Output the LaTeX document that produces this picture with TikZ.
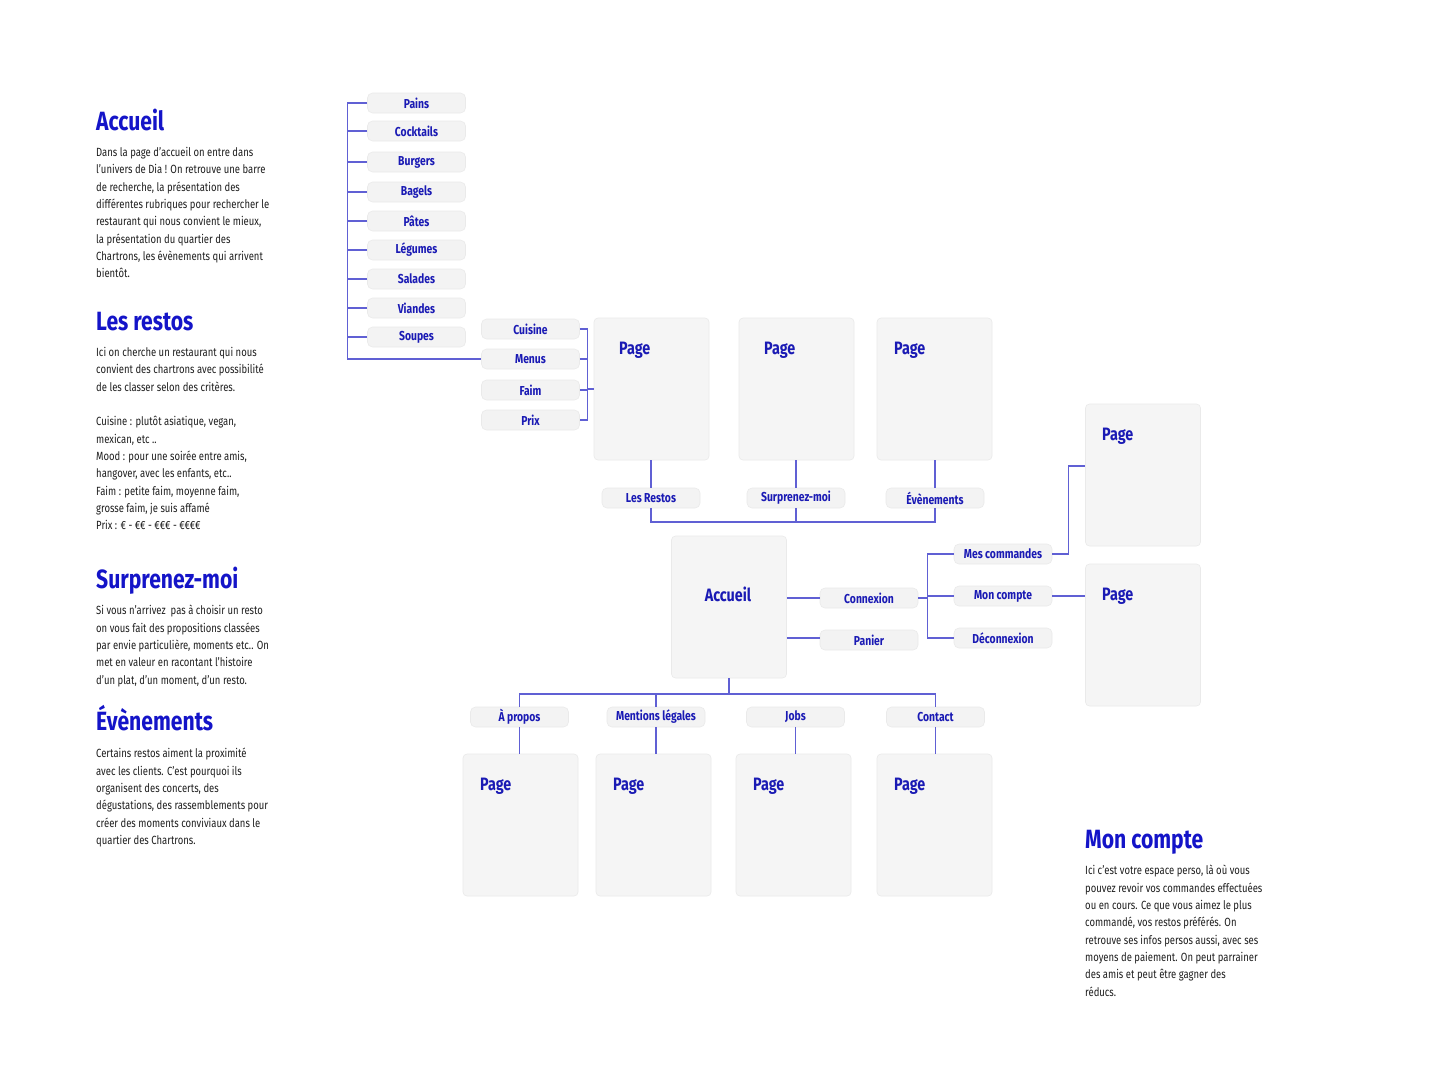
\documentclass[tikz,border=0pt]{standalone}
\usepackage{fontspec}
\setmainfont{Fira Sans}[FakeStretch=0.8]
\usetikzlibrary{calc}
\definecolor{hblue}{HTML}{1414C8}
\definecolor{tblue}{HTML}{1A1AB4}
\definecolor{linec}{HTML}{6060D4}
\definecolor{tagfill}{HTML}{F3F3F3}
\definecolor{pagefill}{HTML}{F5F5F5}
\definecolor{edgec}{HTML}{EAEAEA}
\definecolor{bodyc}{HTML}{1E1E1E}
\newcommand\bodyf{\fontsize{11.9}{17.4}\selectfont}
\tikzset{
  x=1bp, y=-1bp,
  tag/.style={rounded corners=5bp, fill=tagfill, draw=edgec, line width=0.6bp,
    minimum width=98bp, minimum height=20bp, inner sep=0pt,
    font=\bfseries\fontsize{13}{13}\selectfont, text=tblue},
  pagebox/.style={rounded corners=4bp, fill=pagefill, draw=edgec, line width=0.6bp,
    minimum width=115bp, minimum height=142bp, inner sep=0pt},
  pagelbl/.style={anchor=west, inner sep=0pt, text=tblue, font=\bfseries\fontsize{18}{18}\selectfont},
  conn/.style={draw=linec, line width=1.1bp},
  heading/.style={anchor=base west, inner sep=0pt, text=hblue, font=\bfseries\fontsize{26.5}{26.5}\selectfont},
  body/.style={anchor=north west, inner sep=0pt, align=left, text=bodyc, font=\bodyf},
}
\begin{document}
\begin{tikzpicture}
\useasboundingbox[fill=white] (0,0) rectangle (1451,1089);

% ---------- left texts ----------
\node[heading] (hAcc) at (96,130) {Accueil};
\node[body] (tAcc) at (96,147) {Dans la page d’accueil on entre dans\\l'univers de Dia ! On retrouve une barre\\de recherche, la présentation des\\différentes rubriques pour rechercher le\\restaurant qui nous convient le mieux,\\la présentation du quartier des\\Chartrons, les évènements qui arrivent\\bientôt.};

\node[heading] (hRes) at (96,330) {Les restos};
\node[body] (tRes) at (96,347) {Ici on cherche un restaurant qui nous\\convient des chartrons avec possibilité\\de les classer selon des critères.\\[17.4bp]Cuisine : plutôt asiatique, vegan,\\mexican, etc ..\\Mood : pour une soirée entre amis,\\hangover, avec les enfants, etc..\\Faim : petite faim, moyenne faim,\\grosse faim, je suis affamé\\Prix : € - €€ - €€€ - €€€€};

\node[heading] (hSur) at (96,588) {Surprenez-moi};
\node[body] (tSur) at (96,605) {Si vous n’arrivez\ \ pas à choisir un resto\\on vous fait des propositions classées\\par envie particulière, moments etc.. On\\met en valeur en racontant l’histoire\\d’un plat, d’un moment, d’un resto.};

\node[heading] (hEve) at (96,730) {Évènements};
\node[body] (tEve) at (96,748) {Certains restos aiment la proximité\\avec les clients. C’est pourquoi ils\\organisent des concerts, des\\dégustations, des rassemblements pour\\créer des moments conviviaux dans le\\quartier des Chartrons.};

\node[heading] (hMon) at (1085,848) {Mon compte};
\node[body] (tMon) at (1085,865) {Ici c’est votre espace perso, là où vous\\pouvez revoir vos commandes effectuées\\ou en cours. Ce que vous aimez le plus\\commandé, vos restos préférés. On\\retrouve ses infos persos aussi, avec ses\\moyens de paiement. On peut parrainer\\des amis et peut être gagner des\\réducs.};

% ---------- top list ----------
\node[tag] (pains) at (416.5,103) {Pains};
\node[tag] (cock) at (416.5,131) {Cocktails};
\node[tag] (burg) at (416.5,162) {Burgers};
\node[tag] (bag) at (416.5,192) {Bagels};
\node[tag] (pat) at (416.5,221) {Pâtes};
\node[tag] (leg) at (416.5,250) {Légumes};
\node[tag] (sal) at (416.5,279) {Salades};
\node[tag] (via) at (416.5,308) {Viandes};
\node[tag] (sou) at (416.5,337) {Soupes};

% ---------- filters ----------
\node[tag] (cui) at (530.5,329) {Cuisine};
\node[tag] (men) at (530.5,359) {Menus};
\node[tag] (fai) at (530.5,390) {Faim};
\node[tag] (pri) at (530.5,420) {Prix};

% ---------- top pages ----------
\node[pagebox] (p1) at (651.5,389) {};
\node[pagebox] (p2) at (796.5,389) {};
\node[pagebox] (p3) at (934.5,389) {};
\node[pagelbl] (p1l) at (619,350) {Page};
\node[pagelbl] (p2l) at (764,350) {Page};
\node[pagelbl] (p3l) at (894,350) {Page};

\node[tag] (restos) at (651,498) {Les Restos};
\node[tag] (surp) at (796,498) {Surprenez-moi};
\node[tag] (eve) at (935,498) {Évènements};

% ---------- accueil ----------
\node[pagebox] (acc) at (729,607) {};
\node[inner sep=0pt, text=tblue, font=\bfseries\fontsize{18}{18}\selectfont] (accl) at (728,594) {Accueil};
\node[tag] (conx) at (869,598) {Connexion};
\node[tag] (pan) at (869,640) {Panier};
\node[tag] (mesc) at (1003,554) {Mes commandes};
\node[tag] (mcpt) at (1003,596) {Mon compte};
\node[tag] (deco) at (1003,638) {Déconnexion};

% ---------- right pages ----------
\node[pagebox] (r1) at (1143,475) {};
\node[pagebox] (r2) at (1143,635) {};
\node[pagelbl] (r1l) at (1102,436) {Page};
\node[pagelbl] (r2l) at (1102,596) {Page};

% ---------- bottom ----------
\node[tag] (apro) at (519.5,717) {À propos};
\node[tag] (ment) at (656,717) {Mentions légales};
\node[tag] (jobs) at (795.5,717) {Jobs};
\node[tag] (cont) at (935.5,717) {Contact};
\node[pagebox] (b1) at (520.5,825) {};
\node[pagebox] (b2) at (653.5,825) {};
\node[pagebox] (b3) at (793.5,825) {};
\node[pagebox] (b4) at (934.5,825) {};
\node[pagelbl] (b1l) at (480,786) {Page};
\node[pagelbl] (b2l) at (613,786) {Page};
\node[pagelbl] (b3l) at (753,786) {Page};
\node[pagelbl] (b4l) at (894,786) {Page};

% ---------- connectors ----------
\draw[conn] (pains.west) -- ++(-20,0) |- (men.west);
\foreach \n in {cock,burg,bag,pat,leg,sal,via,sou}{\draw[conn] (\n.west) -- ++(-20,0);}
\draw[conn] (cui.east) -- ++(8,0) |- (pri.east);
\draw[conn] (men.east) -- ++(8,0);
\draw[conn] (fai.east) -- ++(8,0);
\draw[conn] (p1.west) -- ++(-6,0);

\draw[conn] (restos.north) -- (restos.north |- p1.south);
\draw[conn] (surp.north) -- (surp.north |- p2.south);
\draw[conn] (eve.north) -- (eve.north |- p3.south);
\coordinate (barT) at (796,522);
\draw[conn] (restos.south) -- (restos.south |- barT) -| (eve.south);
\draw[conn] (surp.south) -- (surp.south |- barT);

\draw[conn] (acc.east |- conx) -- (conx.west);
\draw[conn] (acc.east |- pan) ++(0,-2) -- ($(pan.west)+(0,-2)$);
\draw[conn] (conx.east) -- ++(10,0);
\draw[conn] (mesc.west) -- ++(-26,0) |- (deco.west);
\draw[conn] (mcpt.west) -- ++(-26,0);
\draw[conn] (mesc.east) -- ++(16,0) |- ($(r1.west)+(0,-9)$);
\draw[conn] (mcpt.east) -- (mcpt.east -| r2.west);

\coordinate (barB) at (725,694);
\draw[conn] (acc.south) -- (acc.south |- barB);
\draw[conn] (apro.north) -- (apro.north |- barB) -| (cont.north);
\draw[conn] (ment.north) -- (ment.north |- barB);
\draw[conn] (apro.south) -- (apro.south |- b1.north);
\draw[conn] (ment.south) -- (ment.south |- b2.north);
\draw[conn] (jobs.south) -- (jobs.south |- b3.north);
\draw[conn] (cont.south) -- (cont.south |- b4.north);
\end{tikzpicture}
\end{document}
